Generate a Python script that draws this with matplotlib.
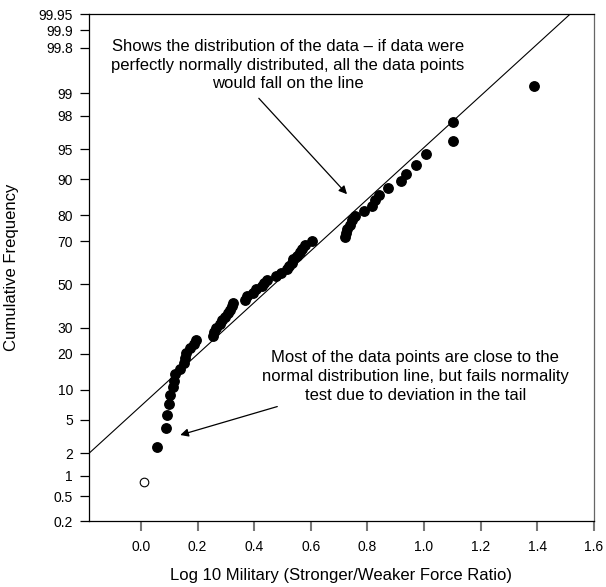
import numpy as np
import matplotlib
matplotlib.use("Agg")
import matplotlib.pyplot as plt
from statistics import NormalDist

plt.rcParams['font.family'] = ['Liberation Sans', 'DejaVu Sans']

# sorted log10 force ratios
log_ratio = [0.012, 0.057, 0.089, 0.092, 0.098, 0.104, 0.113, 0.118, 0.121, 0.139,
             0.151, 0.157, 0.160, 0.174, 0.186, 0.195, 0.254, 0.259, 0.266, 0.280,
             0.287, 0.298, 0.309, 0.316, 0.323, 0.326, 0.366, 0.376, 0.397, 0.407,
             0.428, 0.436, 0.446, 0.478, 0.496, 0.516, 0.524, 0.534, 0.538, 0.552,
             0.563, 0.570, 0.581, 0.604, 0.722, 0.725, 0.729, 0.740, 0.746, 0.757,
             0.787, 0.816, 0.828, 0.840, 0.873, 0.919, 0.936, 0.973, 1.007, 1.102,
             1.102, 1.390]
# cumulative frequency (%) of each point
cum_freq = [0.8, 2.4, 4.0, 5.6, 7.3, 8.9, 10.5, 12.1, 13.7, 15.3,
            16.9, 18.5, 20.2, 21.8, 23.4, 25.0, 26.6, 28.2, 29.8, 31.5,
            33.1, 34.7, 36.3, 37.9, 39.5, 41.1, 42.7, 44.4, 46.0, 47.6,
            49.2, 50.8, 52.4, 54.0, 55.6, 57.3, 58.9, 60.5, 62.1, 63.7,
            65.3, 66.9, 68.5, 70.2, 71.8, 73.4, 75.0, 76.6, 78.2, 79.8,
            81.5, 83.1, 84.7, 86.3, 87.9, 89.5, 91.1, 92.7, 94.4, 96.0,
            97.6, 99.2]
open_idx = [0]  # first point drawn hollow

fit_mean = 0.470
fit_sd = 0.318

y_ticks = [0.2, 0.5, 1, 2, 5, 10, 20, 30, 50, 70, 80, 90, 95, 98, 99, 99.8, 99.9, 99.95]
y_labels = ['0.2', '0.5', '1', '2', '5', '10', '20', '30', '50', '70', '80', '90',
            '95', '98', '99', '99.8', '99.9', '99.95']
x_ticks = [0.0, 0.2, 0.4, 0.6, 0.8, 1.0, 1.2, 1.4, 1.6]

nd = NormalDist()
_ppf = np.vectorize(nd.inv_cdf, otypes=[float])
_cdf = np.vectorize(nd.cdf, otypes=[float])


def prob_fwd(p):
    p = np.clip(np.asarray(p, dtype=float) / 100.0, 1e-9, 1 - 1e-9)
    return _ppf(p)


def prob_inv(z):
    return _cdf(np.asarray(z, dtype=float)) * 100.0


fig = plt.figure(figsize=(6.06, 5.87), dpi=100)
ax = fig.add_axes([0.147, 0.1124, 0.833, 0.8637])
ax.set_yscale('function', functions=(prob_fwd, prob_inv))

x = np.array(log_ratio)
y = np.array(cum_freq)
filled = np.ones(len(x), dtype=bool)
filled[open_idx] = False

ax.plot(x[filled], y[filled], 'o', color='black', ms=6.8, zorder=3)
ax.plot(x[~filled], y[~filled], 'o', mfc='white', mec='black', mew=0.8, ms=6.2, zorder=3)

xlim = (-0.183, 1.6)
line_x = np.array(xlim)
line_y = prob_inv((line_x - fit_mean) / fit_sd)
ax.plot(line_x, line_y, color='black', lw=0.8, zorder=2)

ax.set_xlim(*xlim)
ax.set_ylim(0.2, 99.95)
ax.set_yticks(y_ticks)
ax.set_yticklabels(y_labels)
ax.yaxis.set_minor_locator(matplotlib.ticker.NullLocator())
ax.set_xticks(x_ticks)
ax.set_xticklabels([f'{v:.1f}' for v in x_ticks])

ax.tick_params(axis='y', direction='out', length=6.5, width=0.9, pad=5,
               labelsize=10, colors='black')
ax.tick_params(axis='x', direction='out', length=7, width=1.5, pad=7,
               labelsize=10, color='#777777', labelcolor='black')
for s in ax.spines.values():
    s.set_linewidth(0.9)
ax.spines['right'].set_color('#666666')

ax.set_xlabel('Log 10 Military (Stronger/Weaker Force Ratio)', fontsize=12, labelpad=10)
ax.set_ylabel('Cumulative Frequency', fontsize=12, labelpad=14)

ax.annotate('Shows the distribution of the data \u2013 if data were\n'
            'perfectly normally distributed, all the data points\n'
            'would fall on the line',
            xy=(0.728, 86.4), xytext=(0.519, 99.62),
            ha='center', va='center', fontsize=12, linespacing=1.32,
            arrowprops=dict(arrowstyle='-|>', color='black', lw=0.9,
                            mutation_scale=12, shrinkA=4, shrinkB=0,
                            relpos=(0.40, 0.0)))

ax.annotate('Most of the data points are close to the\n'
            'normal distribution line, but fails normality\n'
            'test due to deviation in the tail',
            xy=(0.139, 3.35), xytext=(0.969, 13.1),
            ha='center', va='center', fontsize=12, linespacing=1.32,
            arrowprops=dict(arrowstyle='-|>', color='black', lw=0.9,
                            mutation_scale=12, shrinkA=2, shrinkB=0,
                            relpos=(0.09, 0.0)))

fig.savefig('out.png', dpi=100)
